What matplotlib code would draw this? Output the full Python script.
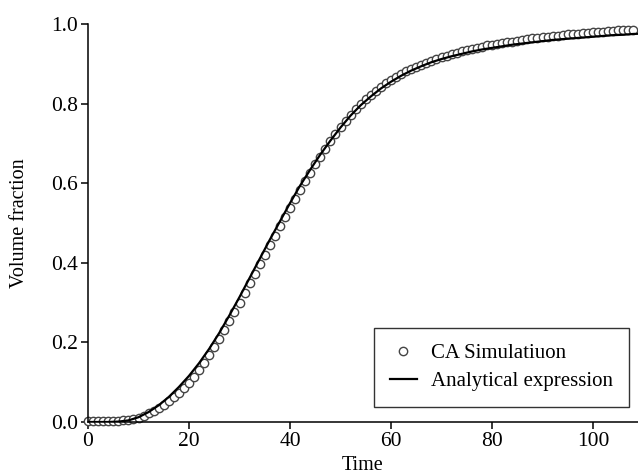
import matplotlib
matplotlib.use("Agg")
import matplotlib.pyplot as plt

plt.rcParams["font.family"] = ["Liberation Serif", "DejaVu Serif"]

# CA simulation, one point per time step (t = 0 .. 108)
sim_time = list(range(0, 109))
sim_fraction = [
    0.003, 0.003, 0.003, 0.003, 0.003, 0.003, 0.003, 0.004, 0.005, 0.007,
    0.011, 0.016, 0.022, 0.028, 0.035, 0.043, 0.052, 0.062, 0.073, 0.085,
    0.098, 0.114, 0.131, 0.149, 0.168, 0.188, 0.209, 0.231, 0.254, 0.277,
    0.300, 0.324, 0.348, 0.372, 0.396, 0.420, 0.444, 0.468, 0.492, 0.515,
    0.538, 0.561, 0.583, 0.605, 0.626, 0.647, 0.667, 0.687, 0.706, 0.724,
    0.741, 0.757, 0.772, 0.786, 0.799, 0.811, 0.822, 0.832, 0.842, 0.851,
    0.859, 0.867, 0.874, 0.881, 0.887, 0.893, 0.898, 0.903, 0.908, 0.912,
    0.916, 0.920, 0.924, 0.928, 0.931, 0.934, 0.937, 0.940, 0.943, 0.946,
    0.948, 0.950, 0.952, 0.954, 0.956, 0.958, 0.960, 0.962, 0.964, 0.965,
    0.967, 0.968, 0.970, 0.971, 0.972, 0.974, 0.975, 0.976, 0.977, 0.978,
    0.979, 0.980, 0.981, 0.982, 0.983, 0.984, 0.985, 0.985, 0.986,
]

# analytical expression, read every 2 time units
model_time = list(range(0, 112, 2))
model_fraction = [
    0.000, 0.000, 0.000, 0.001, 0.004, 0.012, 0.025, 0.042, 0.063, 0.088,
    0.116, 0.148, 0.184, 0.224, 0.268, 0.314, 0.362, 0.410, 0.458, 0.504,
    0.550, 0.594, 0.634, 0.672, 0.707, 0.740, 0.770, 0.796, 0.818, 0.838,
    0.855, 0.870, 0.883, 0.894, 0.904, 0.912, 0.919, 0.925, 0.931, 0.936,
    0.940, 0.944, 0.948, 0.951, 0.954, 0.957, 0.960, 0.962, 0.964, 0.966,
    0.968, 0.970, 0.972, 0.973, 0.975, 0.976,
]

x_ticks = [0, 20, 40, 60, 80, 100]
y_ticks = [0.0, 0.2, 0.4, 0.6, 0.8, 1.0]

fig = plt.figure(figsize=(6.38, 4.75), dpi=100)
ax = fig.add_axes([88 / 638, 1 - 422 / 475, 550 / 638, 398 / 475])

ax.plot(sim_time, sim_fraction, "o", ms=6, mfc="white", mec="#444444", mew=1.0,
        label="CA Simulatiuon", clip_on=False, zorder=2)
ax.plot(model_time, model_fraction, "-", color="black", lw=1.6,
        label="Analytical expression", zorder=3)

ax.set_xlim(0, 108.9)
ax.set_ylim(0, 1.0)
ax.set_xticks(x_ticks)
ax.set_yticks(y_ticks)
ax.set_yticklabels([f"{v:.1f}" for v in y_ticks])

for side in ["top", "right"]:
    ax.spines[side].set_visible(False)
for side in ["left", "bottom"]:
    ax.spines[side].set_linewidth(1.1)
ax.tick_params(direction="out", length=5, width=1.1, labelsize=15.5, pad=2)

ax.set_xlabel("Time", fontsize=14.5, labelpad=4)
ax.set_ylabel("Volume fraction", fontsize=14.5, labelpad=16)

leg = ax.legend(loc="lower right", bbox_to_anchor=(0.9836, 0.0377),
                borderaxespad=0, fontsize=15, frameon=True, fancybox=False,
                edgecolor="black", handlelength=1.3, handletextpad=0.7,
                borderpad=0.75, labelspacing=0.42, markerscale=1.0)
leg.get_frame().set_linewidth(1.0)

fig.savefig("out.png", dpi=100)
